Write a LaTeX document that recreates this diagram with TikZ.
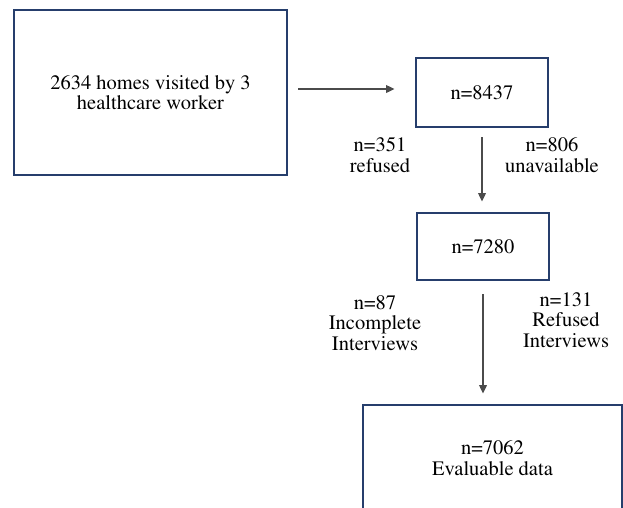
\documentclass[tikz,border=0pt]{standalone}
\usepackage[T1]{fontenc}
\usepackage{mathptmx}
\usetikzlibrary{arrows.meta}
\definecolor{boxblue}{RGB}{38,62,108}
\definecolor{arrgray}{RGB}{75,75,75}
\begin{document}
\begin{tikzpicture}[x=1pt,y=-1pt,
  box/.style={draw=boxblue,line width=2.8pt,align=center,inner sep=0pt,
    font=\fontsize{20.5}{20.5}\selectfont},
  lbl/.style={align=center,inner sep=0pt,font=\fontsize{20.5}{20.5}\selectfont},
  arr/.style={draw=arrgray,line width=1.9pt,-{Triangle[length=8.5pt,width=7.5pt]}}]
\useasboundingbox (0,0) rectangle (623,507);
\clip (0,0) rectangle (623,507);
\fill[white] (0,0) rectangle (623,507);
\node[box,minimum width=273pt,minimum height=165pt] (b1) at (150.5,92.5) {2634 homes visited by 3\\healthcare worker};
\node[box,minimum width=132pt,minimum height=69pt] (b2) at (482,92.5) {n=8437};
\node[box,minimum width=132pt,minimum height=67pt] (b3) at (483,246.5) {n=7280};
\node[box,minimum width=259pt,minimum height=106pt] (b4) at (492.5,458) {n=7062\\Evaluable data};
\node[lbl] (l1) at (380,155) {n=351\\refused};
\node[lbl] (l2) at (552,155) {n=806\\unavailable};
\node[lbl] (l3) at (375,323) {n=87\\Incomplete\\Interviews};
\node[lbl] (l4) at (566,320) {n=131\\Refused\\Interviews};
\draw[arr,shorten <=10pt,shorten >=20pt] ([yshift=3.5pt]b1.east) -- ([yshift=3.5pt]b2.west);
\draw[arr,shorten <=9pt,shorten >=10pt] (b2.south) -- (b2.south |- b3.north);
\draw[arr,shorten <=13pt,shorten >=10pt] (b3.south) -- (b3.south |- b4.north);
\end{tikzpicture}
\end{document}
